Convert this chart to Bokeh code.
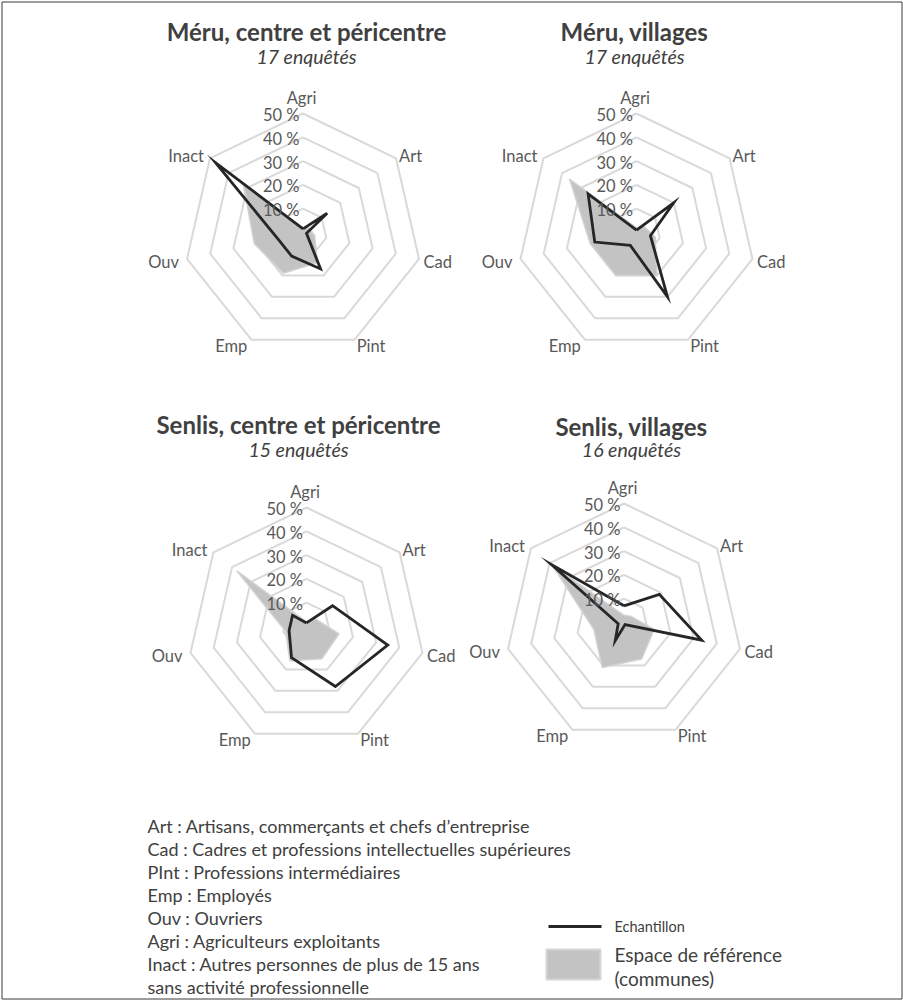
import math
from bokeh.plotting import figure
from bokeh.models import Range1d
from bokeh.embed import file_html
from bokeh.resources import INLINE
from bokeh.core.properties import value

# ---------------- data ----------------
categories = ["Agri", "Art", "Cad", "Pint", "Emp", "Ouv", "Inact"]
tick_values = [10, 20, 30, 40, 50]
tick_labels = ["10 %", "20 %", "30 %", "40 %", "50 %"]

titles = ["Méru, centre et péricentre", "Méru, villages",
          "Senlis, centre et péricentre", "Senlis, villages"]
subtitles = ["17 enquêtés", "17 enquêtés", "15 enquêtés", "16 enquêtés"]

# Echantillon (sample), % per category
sample_meru_centre = [1.5, 13, 1.5, 17, 11, 11, 47]
sample_meru_villages = [1, 20, 6, 30, 6, 18, 26]
sample_senlis_centre = [1.5, 14, 35, 28, 14.5, 7.5, 7.5]
sample_senlis_villages = [7, 19, 33.5, 1, 8.5, 2.5, 39]

# Espace de référence (communes), % per category
ref_meru_centre = [2, 3, 5, 14, 19, 21, 32]
ref_meru_villages = [2, 4, 8, 20, 20, 20, 36]
ref_senlis_centre = [2, 5, 14, 15, 16, 9, 37.5]
ref_senlis_villages = [3, 4, 13, 17, 21, 13, 38.5]

legend_lines = [
    "Art : Artisans, commerçants et chefs d’entreprise",
    "Cad : Cadres et professions intellectuelles supérieures",
    "PInt : Professions intermédiaires",
    "Emp : Employés",
    "Ouv : Ouvriers",
    "Agri : Agriculteurs exploitants",
    "Inact : Autres personnes de plus de 15 ans",
    "sans activité professionnelle",
]
legend_sample = "Echantillon"
legend_ref = ["Espace de référence", "(communes)"]

# ---------------- layout ----------------
W, H = 903, 1000
FONT = "Lato"
TXT = "#595959"
DARK = "#404040"
SCALE = 2.38  # px per percent

charts = [
    dict(cx=302.5, cy=232, tx=306, ty=31, sy=56,
         sample=sample_meru_centre, ref=ref_meru_centre),
    dict(cx=636, cy=232, tx=634, ty=31, sy=56,
         sample=sample_meru_villages, ref=ref_meru_villages),
    dict(cx=306, cy=626, tx=298, ty=424, sy=449,
         sample=sample_senlis_centre, ref=ref_senlis_centre),
    dict(cx=623.5, cy=622, tx=631, ty=426, sy=449,
         sample=sample_senlis_villages, ref=ref_senlis_villages),
]
label_offsets = [(-1.5, -16, "center"), (3, -2, "left"), (4.5, 3.5, "left"),
                 (2, 6, "left"), (-4, 6, "right"), (-8, 3.5, "right"),
                 (-6, -2, "right")]

p = figure(width=W, height=H, x_range=Range1d(0, W), y_range=Range1d(H, 0),
           output_backend="svg", toolbar_location=None, min_border=0)
p.axis.visible = False
p.grid.visible = False
p.outline_line_color = None
p.background_fill_color = "white"
p.border_fill_color = "white"

# frame around the whole figure
p.line([1.5, W - 1.5, W - 1.5, 1.5, 1.5], [1.5, 1.5, H - 1.5, H - 1.5, 1.5],
       line_color="#3a3a3a", line_width=1)

n = len(categories)
angles = [2 * math.pi * k / n for k in range(n)]


def polar(c, vals):
    xs = [c["cx"] + v * SCALE * math.sin(a) for v, a in zip(vals, angles)]
    ys = [c["cy"] - v * SCALE * math.cos(a) for v, a in zip(vals, angles)]
    return xs, ys


for i, c in enumerate(charts):
    # rings
    rx, ry = [], []
    for t in tick_values:
        xs, ys = polar(c, [t] * n)
        rx.append(xs + [xs[0]])
        ry.append(ys + [ys[0]])
    p.multi_line(rx, ry, line_color="#d9d9d9", line_width=2)

    # reference area
    xs, ys = polar(c, c["ref"])
    p.patch(xs, ys, fill_color="#c3c3c3", line_color="#d2d2d2", line_width=1.5)

    # sample line
    xs, ys = polar(c, c["sample"])
    p.line(xs + [xs[0]], ys + [ys[0]], line_color="#262626", line_width=2.8,
           line_join="miter")

    # tick labels
    txs = [c["cx"] - 3.5] * len(tick_values)
    tys = [c["cy"] - t * SCALE + 1.5 for t in tick_values]
    p.text(txs, tys, text=tick_labels, text_align="right", text_baseline="middle",
           text_font=value(FONT), text_font_size="16.5px", text_color=TXT)

    # category labels
    ox, oy = polar(c, [50] * n)
    for k, cat in enumerate(categories):
        dx, dy, al = label_offsets[k]
        p.text([ox[k] + dx], [oy[k] + dy], text=[cat], text_align=al,
               text_baseline="middle", text_font=value(FONT),
               text_font_size="16.5px", text_color=TXT)

    # titles
    p.text([c["tx"]], [c["ty"]], text=[titles[i]], text_align="center",
           text_baseline="middle", text_font=value(FONT), text_font_size="24px",
           text_font_style="bold", text_color=DARK)
    p.text([c["tx"]], [c["sy"]], text=[subtitles[i]], text_align="center",
           text_baseline="middle", text_font=value(FONT), text_font_size="19.5px",
           text_font_style="italic", text_color=DARK)

# legend: abbreviations
ly = [825 + 23.0 * k for k in range(len(legend_lines))]
p.text([147] * len(legend_lines), ly, text=legend_lines, text_align="left",
       text_baseline="middle", text_font=value(FONT), text_font_size="18px",
       text_color=DARK)

# legend: symbols
p.line([548, 601], [926, 926], line_color="#262626", line_width=3)
p.text([614], [926], text=[legend_sample], text_align="left", text_baseline="middle",
       text_font=value(FONT), text_font_size="14.5px", text_color=DARK)
p.quad(left=[546], right=[600], top=[949], bottom=[979], fill_color="#c3c3c3",
       line_color="#d6d6d6", line_width=2)
p.text([614, 614], [954, 978], text=legend_ref, text_align="left",
       text_baseline="middle", text_font=value(FONT), text_font_size="19px",
       text_color=DARK)

open("out.html", "w").write(file_html(p, INLINE))
